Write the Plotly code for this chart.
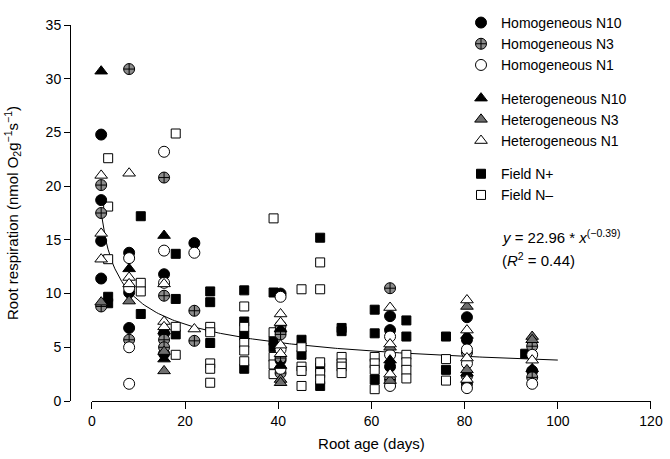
import numpy as np
import plotly.graph_objects as go

# ---- data ----
hom_n10_x = [2, 2, 2, 2, 8, 8, 8, 15.5, 15.5, 15.5, 22, 40.5, 40.5, 40.5, 64, 64, 64, 80.5, 80.5, 80.5, 94.5]
hom_n10_y = [24.8, 18.7, 14.9, 11.4, 13.8, 10.1, 6.8, 11.8, 6.3, 4.4, 14.7, 10.0, 6.5, 3.8, 7.9, 6.6, 3.2, 7.8, 5.7, 1.6, 2.8]

hom_n3_x = [2, 2, 2, 8, 8, 15.5, 15.5, 15.5, 15.5, 22, 22, 40.5, 40.5, 40.5, 40.5, 64, 64, 80.5, 80.5, 94.5, 94.5]
hom_n3_y = [20.1, 17.5, 8.8, 30.9, 5.7, 20.8, 9.8, 5.7, 5.0, 8.4, 5.6, 7.0, 6.2, 4.0, 2.6, 10.5, 2.0, 4.5, 2.3, 5.1, 2.2]

hom_n1_x = [8, 8, 8, 8, 15.5, 15.5, 15.5, 22, 40.5, 40.5, 40.5, 64, 64, 64, 80.5, 80.5, 80.5, 94.5, 94.5]
hom_n1_y = [13.3, 10.5, 5.0, 1.6, 23.2, 14.0, 11.0, 13.8, 9.7, 4.8, 3.0, 6.0, 4.3, 1.4, 4.8, 3.5, 1.2, 4.3, 1.6]

het_n10_x = [2, 8, 15.5, 15.5, 15.5, 40.5, 40.5, 64, 80.5, 80.5, 94.5]
het_n10_y = [30.7, 12.3, 15.4, 6.5, 3.9, 6.7, 3.3, 3.8, 6.1, 2.6, 3.0]

het_n3_x = [2, 8, 15.5, 15.5, 40.5, 40.5, 64, 64, 80.5, 80.5, 94.5, 94.5]
het_n3_y = [9.2, 9.3, 2.8, 4.6, 2.0, 1.7, 1.9, 5.0, 8.8, 2.9, 6.0, 5.7]

het_n1_x = [2, 2, 2, 8, 8, 8, 15.5, 15.5, 15.5, 22, 40.5, 40.5, 40.5, 40.5, 64, 64, 64, 80.5, 80.5, 80.5, 80.5, 94.5]
het_n1_y = [21.0, 15.6, 13.2, 21.2, 11.5, 10.9, 10.9, 7.4, 6.9, 6.7, 8.1, 7.3, 5.2, 4.4, 8.7, 5.3, 2.5, 9.4, 6.6, 4.0, 2.0, 3.8]

field_p_x = [3.5, 3.5, 10.5, 10.5, 18, 18, 18, 25.4, 25.4, 25.4, 32.7, 32.7, 32.7, 32.7, 39, 39, 39,
             45, 45, 49, 49, 49, 53.6, 53.6, 60.7, 60.7, 60.7, 67.5, 67.5, 76, 76, 93]
field_p_y = [9.7, 9.1, 17.2, 8.1, 13.7, 9.5, 6.2, 10.2, 9.2, 5.4, 10.3, 7.4, 6.1, 3.0, 10.1, 5.6, 5.0,
             5.7, 4.3, 15.2, 3.1, 1.4, 6.8, 6.5, 8.5, 6.3, 2.0, 7.5, 6.0, 6.0, 2.9, 4.4]

field_m_x = [3.5, 3.5, 3.5, 10.5, 10.5, 18, 18, 18, 25.4, 25.4, 25.4, 25.4, 25.4, 32.7, 32.7, 32.7, 32.7, 32.7,
             39, 39, 39, 39, 39, 45, 45, 45, 45, 45, 49, 49, 49, 49, 49, 53.6, 53.6, 53.6, 53.6,
             60.7, 60.7, 60.7, 60.7, 67.5, 67.5, 67.5, 67.5, 76, 76]
field_m_y = [22.6, 18.1, 13.2, 11.0, 10.2, 24.9, 6.9, 4.3, 6.9, 6.4, 3.5, 3.0, 1.7, 8.8, 6.9, 5.4, 4.7, 3.7,
             17.0, 6.4, 4.1, 3.4, 2.5, 10.4, 5.0, 3.2, 2.8, 1.4, 12.9, 10.4, 3.6, 2.6, 2.0, 4.1, 3.5, 3.2, 2.6,
             4.1, 3.5, 2.9, 1.1, 4.3, 3.6, 2.9, 2.1, 3.9, 1.9]

fit_a, fit_b = 22.96, -0.39
fit_x = np.linspace(2, 100, 200)
fit_y = fit_a * fit_x ** fit_b

FONT = "Arial, Liberation Sans, sans-serif"

fig = go.Figure()

fig.add_trace(go.Scatter(x=fit_x, y=fit_y, mode="lines", line=dict(color="black", width=1),
                         showlegend=False, hoverinfo="skip"))

def add(xs, ys, name, symbol, fill, size, group, rank, lw=1):
    fig.add_trace(go.Scatter(
        x=xs, y=ys, mode="markers", name=name, legendgroup=group, legendrank=rank,
        marker=dict(symbol=symbol, color=fill, size=size, line=dict(color="black", width=lw))))

add(field_p_x, field_p_y, "Field N+", "square", "black", 9, "c", 7)
add(field_m_x, field_m_y, "Field N\u2013", "square", "white", 9, "c", 8)
add(hom_n10_x, hom_n10_y, "Homogeneous N10", "circle", "black", 11, "a", 1)
add(hom_n3_x, hom_n3_y, "Homogeneous N3", "circle-cross", "#8c8c8c", 11, "a", 2)
add(hom_n1_x, hom_n1_y, "Homogeneous N1", "circle", "white", 11, "a", 3)
add(het_n10_x, het_n10_y, "Heterogeneous N10", "triangle-up", "black", 11, "b", 4)
add(het_n3_x, het_n3_y, "Heterogeneous N3", "triangle-up", "#6e6e6e", 11, "b", 5)
add(het_n1_x, het_n1_y, "Heterogeneous N1", "triangle-up", "white", 11, "b", 6)

L, R, T, B = 70, 15, 7, 58
W, H = 670, 459
x0_frac = (92 - L) / (W - L - R)

fig.update_layout(
    width=W, height=H,
    margin=dict(l=L, r=R, t=T, b=B),
    paper_bgcolor="white", plot_bgcolor="white",
    font=dict(family=FONT, size=14, color="black"),
    legend=dict(x=0.673, y=1.048, xanchor="left", yanchor="top", traceorder="grouped",
                tracegroupgap=12, font=dict(size=14), bgcolor="rgba(0,0,0,0)", itemsizing="trace"),
    xaxis=dict(domain=[x0_frac, 1.0], range=[0, 120], tickvals=[0, 20, 40, 60, 80, 100, 120],
               showline=True, linecolor="black", linewidth=1, ticks="outside", ticklen=7,
               tickcolor="black", showgrid=False, zeroline=False, tickfont=dict(size=14),
               title=dict(text="Root age (days)", standoff=10, font=dict(size=15))),
    yaxis=dict(range=[0, 35], tickvals=[0, 5, 10, 15, 20, 25, 30, 35], anchor="free", position=0,
               showline=True, linecolor="black", linewidth=1, ticks="outside", ticklen=6,
               tickcolor="black", showgrid=False, zeroline=False, tickfont=dict(size=14),
               title=dict(text="Root respiration (nmol O<sub>2</sub>g<sup>\u22121</sup>s<sup>\u22121</sup>)",
                          standoff=22, font=dict(size=15))),
)

fig.add_annotation(xref="paper", yref="paper", x=0.74, y=0.437, xanchor="left", yanchor="middle",
                   showarrow=False, align="left", font=dict(size=15),
                   text="<i>y</i> = 22.96 * <i>x</i><sup>(\u22120.39)</sup>")
fig.add_annotation(xref="paper", yref="paper", x=0.74, y=0.376, xanchor="left", yanchor="middle",
                   showarrow=False, align="left", font=dict(size=15),
                   text="(<i>R</i><sup>2</sup> = 0.44)")

fig.write_html("out.html", post_script="document.body.style.margin='0';",
               config={"displayModeBar": False})
